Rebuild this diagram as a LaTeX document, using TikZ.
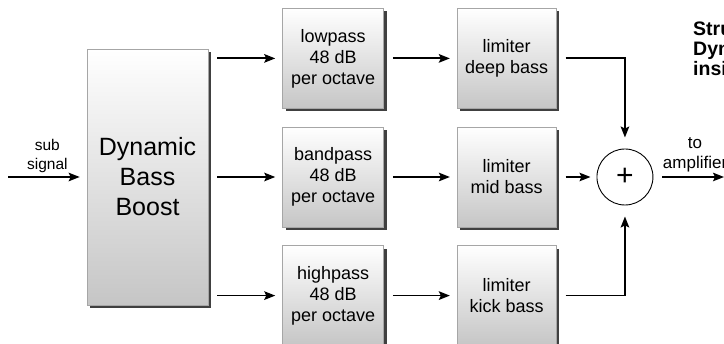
\documentclass[tikz,border=0pt]{standalone}
\usepackage{fontspec}
\setmainfont{Liberation Sans}
\usetikzlibrary{positioning,shadows,arrows.meta}

\begin{document}
\begin{tikzpicture}[x=1pt,y=-1pt,node distance=18pt,
        box/.style = {draw=gray!70, line width=0.6pt, top color=white, bottom color=gray!45,
                      drop shadow={shadow xshift=3pt, shadow yshift=-3pt, fill=black!75, opacity=1},
                      align=center, inner sep=0pt, font=\fontsize{18}{21}\selectfont},
        filter/.style = {box, minimum width=101pt, minimum height=100pt},
        limit/.style = {box, minimum width=99pt, minimum height=100pt},
        sumnode/.style = {draw, circle, fill=white, line width=0.9pt, minimum size=56pt, inner sep=0pt,
                      font=\fontsize{30}{30}\selectfont},
        lbl/.style = {align=center, inner sep=3pt, font=\fontsize{15.5}{19}\selectfont},
        arrow/.style = {line width=1.8pt, -{Stealth[length=11pt,width=8.5pt,inset=2pt]},
                      shorten <=9pt, shorten >=7pt}]
                \clip (0,0) rectangle (724,344);
                \node[box, minimum width=121pt, minimum height=256pt, font=\fontsize{25}{30}\selectfont]
                    (boost) at (147.5,177) {Dynamic\\Bass\\Boost};
                \node[filter] (band) [right=74pt of boost] {bandpass\\48 dB\\per octave};
                \node[filter] (low) [above=of band] {lowpass\\48 dB\\per octave};
                \node[filter] (high) [below=of band] {highpass\\48 dB\\per octave};
                \node[limit] (limmid) [right=73pt of band] {limiter\\mid bass};
                \node[limit] (limlow) [above=of limmid] {limiter\\deep bass};
                \node[limit] (limhigh) [below=of limmid] {limiter\\kick bass};
                \node[sumnode] (sum) [right=40pt of limmid] {+};
                \node[anchor=north west, align=left, inner sep=0pt,
                      font=\bfseries\fontsize{19.5}{20}\selectfont] (title) at (693,22) {Stru\\Dyn\\insi};
                \coordinate (in) at (8,177);
                \coordinate (out) at (724,177);
                % signal path
                \draw[arrow, shorten <=0pt] (in) -- node[lbl, above] {sub\\signal} (boost);
                \foreach \f/\l in {low/limlow, band/limmid, high/limhigh} {
                    \draw[arrow] (boost.east |- \f) -- (\f);
                    \draw[arrow] (\f) -- (\l);
                }
                \draw[arrow, shorten >=11pt] (limlow) -| (sum);
                \draw[arrow, shorten >=6pt] (limmid) -- (sum);
                \draw[arrow, shorten >=11pt] (limhigh) -| (sum);
                \draw[arrow, shorten >=0pt] (sum) -- node[lbl, above, pos=0.59, inner sep=4pt,
                      font=\fontsize{17}{20}\selectfont] {to\\amplifier} (out);
            \end{tikzpicture}
\end{document}
